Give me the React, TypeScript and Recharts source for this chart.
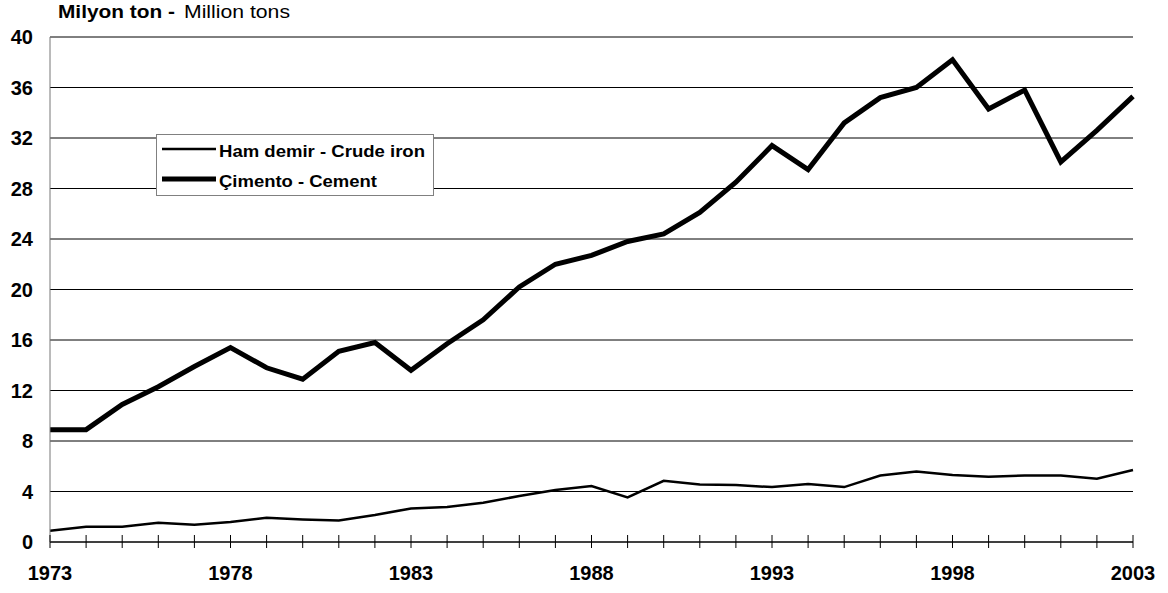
import React from "react";
import { LineChart, Line, XAxis, YAxis, CartesianGrid, Legend } from "recharts";

const years = [1973, 1974, 1975, 1976, 1977, 1978, 1979, 1980, 1981, 1982, 1983, 1984, 1985, 1986, 1987, 1988, 1989, 1990, 1991, 1992, 1993, 1994, 1995, 1996, 1997, 1998, 1999, 2000, 2001, 2002, 2003];
const crudeIron = [0.9, 1.2, 1.2, 1.53, 1.37, 1.58, 1.92, 1.79, 1.71, 2.14, 2.66, 2.77, 3.11, 3.64, 4.11, 4.43, 3.53, 4.85, 4.56, 4.51, 4.35, 4.59, 4.35, 5.27, 5.59, 5.3, 5.17, 5.27, 5.27, 5.01, 5.7];
const cement = [8.9, 8.9, 10.9, 12.3, 13.9, 15.4, 13.8, 12.9, 15.1, 15.8, 13.6, 15.7, 17.6, 20.2, 22.0, 22.7, 23.8, 24.4, 26.1, 28.5, 31.4, 29.5, 33.2, 35.2, 36.0, 38.2, 34.3, 35.8, 30.1, 32.6, 35.3];
const xLabelYears = [1973, 1978, 1983, 1988, 1993, 1998, 2003];
const yTicks = [0, 4, 8, 12, 16, 20, 24, 28, 32, 36, 40];
const seriesNames = { iron: "Ham demir - Crude iron", cement: "Çimento - Cement" };
const titleBold = "Milyon ton -";
const titleNormal = "Million tons";

const data = years.map((y, i) => ({ year: y, iron: crudeIron[i], cement: cement[i] }));

const FONT = "Arial, 'Liberation Sans', sans-serif";
const widths: Record<string, number> = { iron: 2.5, cement: 5 };
const legendTextLen: Record<string, number> = { iron: 206, cement: 158 };

const XTick = (props: any) => {
  const { x, y, payload } = props;
  const show = xLabelYears.includes(payload.value);
  return (
    <g>
      <line x1={x} x2={x} y1={y - 7} y2={y + 6} stroke="#000" strokeWidth={1} />
      {show && (
        <text x={x} y={y + 31} textAnchor="middle" dominantBaseline="central" fontFamily={FONT} fontWeight="bold" fontSize={20} fill="#000">
          {payload.value}
        </text>
      )}
    </g>
  );
};

const LegendContent = (props: any) => {
  const payload = props.payload || [];
  return (
    <div style={{ width: 278, height: 62, border: "1px solid #808080", background: "#fff", boxSizing: "border-box" }}>
      <svg width={276} height={60} style={{ display: "block" }}>
        {payload.map((p: any, i: number) => {
          const cy = 14 + i * 30;
          return (
            <g key={p.value}>
              <line x1={5} x2={59} y1={cy} y2={cy} stroke="#000" strokeWidth={widths[p.dataKey] ?? 2} />
              <text
                x={62}
                y={cy + 2}
                dominantBaseline="central"
                fontFamily={FONT}
                fontWeight="bold"
                fontSize={16}
                fill="#000"
                textLength={legendTextLen[p.dataKey]}
                lengthAdjust="spacingAndGlyphs"
              >
                {p.value}
              </text>
            </g>
          );
        })}
      </svg>
    </div>
  );
};

export default function App() {
  return (
    <div style={{ position: "absolute", left: 0, top: 0, width: 1168, height: 593, background: "#fff" }}>
      <svg width={400} height={24} style={{ position: "absolute", left: 0, top: 0 }}>
        <text x={58} y={18} fontFamily={FONT} fontWeight="bold" fontSize={18} fill="#000" textLength={117} lengthAdjust="spacingAndGlyphs">
          {titleBold}
        </text>
        <text x={184} y={18} fontFamily={FONT} fontSize={18} fill="#000" textLength={106} lengthAdjust="spacingAndGlyphs">
          {titleNormal}
        </text>
      </svg>
      <LineChart width={1168} height={593} data={data} margin={{ top: 37, right: 35, left: 0, bottom: 0 }}>
        <CartesianGrid vertical={false} stroke="#000" strokeWidth={1} />
        <XAxis
          dataKey="year"
          type="number"
          domain={[1973, 2003]}
          ticks={years}
          interval={0}
          height={51}
          tickSize={0}
          tickMargin={0}
          tickLine={false}
          axisLine={{ stroke: "#000", strokeWidth: 1 }}
          tick={<XTick />}
        />
        <YAxis
          type="number"
          domain={[0, 40]}
          ticks={yTicks}
          interval={0}
          width={50}
          tickSize={0}
          tickMargin={17}
          tickLine={false}
          axisLine={{ stroke: "#777", strokeWidth: 1 }}
          tick={{ fontFamily: FONT, fontWeight: "bold", fontSize: 20, fill: "#000" }}
        />
        <Legend
          layout="horizontal"
          verticalAlign="middle"
          align="center"
          content={<LegendContent />}
          wrapperStyle={{ position: "absolute", left: 156, top: 134, width: 278, height: 62 }}
        />
        <Line type="linear" dataKey="iron" name={seriesNames.iron} stroke="#000" strokeWidth={2.5} dot={false} isAnimationActive={false} />
        <Line type="linear" dataKey="cement" name={seriesNames.cement} stroke="#000" strokeWidth={5} dot={false} isAnimationActive={false} />
      </LineChart>
    </div>
  );
}
